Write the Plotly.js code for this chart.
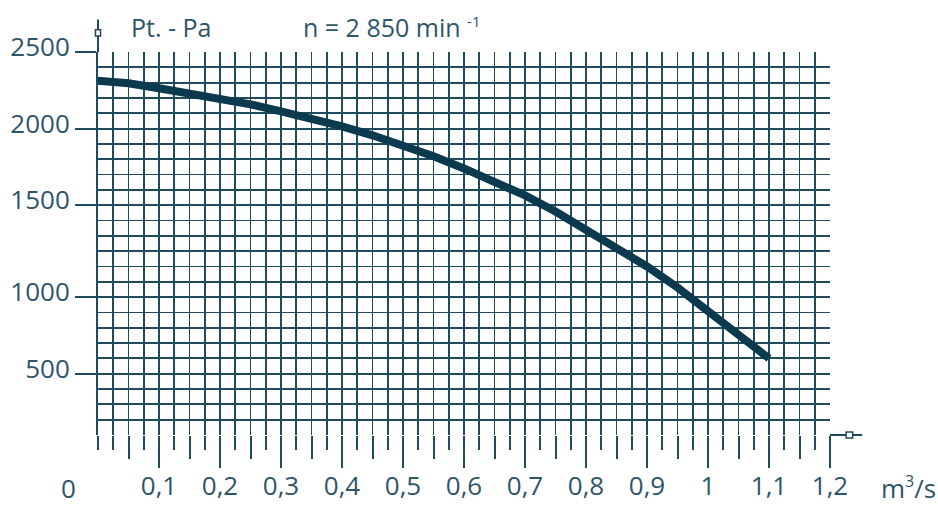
<!DOCTYPE html>
<html>
<head>
<meta charset="utf-8">
<script src="https://cdn.plot.ly/plotly-3.0.1.min.js"></script>
<style>html,body{margin:0;padding:0;background:#fff;}#chart{width:938px;height:506px;}</style>
</head>
<body>
<div id="chart"></div>
<script>
// Flow rate (m³/s)
const flow = [-0.01, 0.05, 0.1, 0.15, 0.2, 0.25, 0.3, 0.35, 0.4, 0.45, 0.5, 0.55, 0.6, 0.65, 0.7, 0.75, 0.8, 0.85, 0.9, 0.95, 1.0, 1.05, 1.1];
// Total pressure read on the chart's grid (Pa, 100 Pa per grid line)
const pressure = [2315, 2296, 2263, 2231, 2198, 2158, 2113, 2067, 2015, 1956, 1891, 1819, 1740, 1655, 1564, 1459, 1342, 1231, 1100, 963, 813, 650, 500];

const xTickVals = [0.1, 0.2, 0.3, 0.4, 0.5, 0.6, 0.7, 0.8, 0.9, 1.0, 1.1, 1.2];
const xTickText = ['0,1', '0,2', '0,3', '0,4', '0,5', '0,6', '0,7', '0,8', '0,9', '1', '1,1', '1,2'];
const yTickVals = [2500, 2000, 1500, 900, 400];
const yTickText = ['2500', '2000', '1500', '1000', '500'];

const gridColor = '#1f4b5e';
const textColor = '#2e5568';
const curveColor = '#0b3a4f';
const fontFam = '"Open Sans", "Noto Sans", sans-serif';
const xRange = [0, 1.2];

const traces = [
  {x: flow, y: pressure, type: 'scatter', mode: 'lines',
   line: {color: curveColor, width: 8}, hoverinfo: 'skip', showlegend: false},
  {x: [], y: [], xaxis: 'x2', yaxis: 'y', type: 'scatter', showlegend: false}
];

const layout = {
  width: 938, height: 506,
  margin: {l: 98, r: 108, t: 52, b: 71},
  paper_bgcolor: '#ffffff', plot_bgcolor: '#ffffff',
  font: {family: fontFam, color: textColor, size: 25},
  showlegend: false,
  xaxis: {
    range: xRange, tickmode: 'array', tickvals: xTickVals, ticktext: xTickText,
    ticks: 'outside', ticklen: 32, tickwidth: 2, tickcolor: gridColor,
    showgrid: true, gridcolor: gridColor, gridwidth: 1.8,
    zeroline: false, showline: false, ticklabelstandoff: -4,
    tickfont: {size: 26, color: textColor, family: fontFam},
    minor: {tick0: 0, dtick: 0.025, ticks: 'outside', ticklen: 14, tickwidth: 2, tickcolor: gridColor,
            showgrid: true, gridcolor: gridColor, gridwidth: 1.8}
  },
  xaxis2: {
    range: xRange, overlaying: 'x', anchor: 'y', side: 'bottom',
    tickmode: 'linear', tick0: 0.05, dtick: 0.1,
    ticks: 'outside', ticklen: 23, tickwidth: 2, tickcolor: gridColor,
    showticklabels: false, showgrid: false, zeroline: false, showline: false
  },
  yaxis: {
    range: [0, 2500], tickmode: 'array', tickvals: yTickVals, ticktext: yTickText,
    ticks: 'outside', ticklen: 21, tickwidth: 2, tickcolor: gridColor,
    showgrid: true, gridcolor: gridColor, gridwidth: 1.8,
    zeroline: false, showline: true, linecolor: gridColor, linewidth: 2,
    ticklabelshift: -5, ticklabelstandoff: 0,
    tickfont: {size: 26, color: textColor, family: fontFam},
    minor: {tick0: 0, dtick: 100, ticks: '', showgrid: true, gridcolor: gridColor, gridwidth: 1.8}
  },
  shapes: [
    {type: 'line', xref: 'paper', yref: 'paper', x0: 0, x1: 0, y0: 1, y1: 1.085, line: {color: gridColor, width: 2}},
    {type: 'rect', xref: 'paper', yref: 'paper', x0: -0.0035, x1: 0.0035, y0: 1.042, y1: 1.058, line: {color: gridColor, width: 1.5}, fillcolor: '#ffffff'},
    {type: 'line', xref: 'paper', yref: 'paper', x0: 1, x1: 1.044, y0: 0, y1: 0, line: {color: gridColor, width: 2}},
    {type: 'rect', xref: 'paper', yref: 'paper', x0: 1.022, x1: 1.031, y0: -0.008, y1: 0.008, line: {color: gridColor, width: 1.5}, fillcolor: '#ffffff'}
  ],
  annotations: [
    {text: 'Pt. - Pa', xref: 'paper', yref: 'paper', x: 0.043, y: 1.065, xanchor: 'left', yanchor: 'middle', showarrow: false, font: {size: 25, color: textColor, family: fontFam}},
    {text: 'n = 2 850 min <sup><span style="font-size:15px">-1</span></sup>', xref: 'paper', yref: 'paper', x: 0.277, y: 1.065, xanchor: 'left', yanchor: 'middle', showarrow: false, font: {size: 25, color: textColor, family: fontFam}},
    {text: '0', xref: 'paper', yref: 'paper', x: -0.040, y: -0.138, xanchor: 'center', yanchor: 'middle', showarrow: false, font: {size: 26, color: textColor, family: fontFam}},
    {text: 'm<sup><span style="font-size:16px">3</span></sup>/s', xref: 'paper', yref: 'paper', x: 1.067, y: -0.138, xanchor: 'left', yanchor: 'middle', showarrow: false, font: {size: 26, color: textColor, family: fontFam}}
  ]
};

Plotly.newPlot('chart', traces, layout, {displayModeBar: false, staticPlot: true});
</script>
</body>
</html>
